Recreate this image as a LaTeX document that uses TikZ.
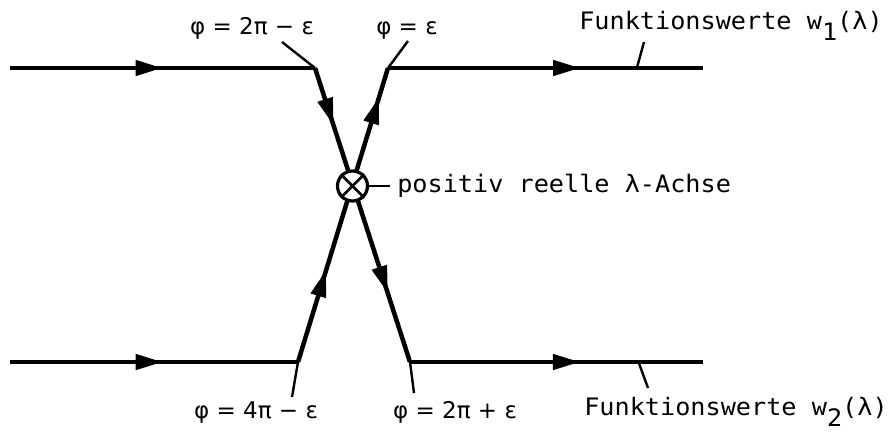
\documentclass[tikz,border=0pt]{standalone}
\usepackage{fontspec}
\usetikzlibrary{arrows.meta,decorations.markings}
\newfontfamily\typew[FakeStretch=1.05]{DejaVu Sans Mono}
\newfontfamily\phifont{DejaVu Sans}

\begin{document}
\begin{tikzpicture}[x=1pt,y=-1pt,line width=4.5pt,
    arrowat/.style={postaction={decorate,decoration={markings,
        mark=at position #1 with {\arrow{Triangle[length=27pt,width=15pt]}}}}},
    leader/.style={line width=2.4pt},
    phlabel/.style={font=\phifont\fontsize{23}{23}\selectfont,anchor=base,inner sep=0pt},
    fwlabel/.style={font=\typew\fontsize{24}{24}\selectfont,anchor=base west,inner sep=0pt}]

\useasboundingbox (0,0) rectangle (888,437);

% Corner points
\coordinate (tl) at (10,68);
\coordinate (b1) at (315,68);
\coordinate (b2) at (388,68);
\coordinate (tr) at (703,68);
\coordinate (bl) at (10,362);
\coordinate (b3) at (298,362);
\coordinate (b4) at (410,362);
\coordinate (br) at (703,362);

% Horizontal lines
\draw[arrowat=.5] (tl) -- (b1);
\draw[arrowat=.61] (b2) -- coordinate[pos=.79] (w1) (tr);
\draw[arrowat=.53] (bl) -- (b3);
\draw[arrowat=.58] (b4) -- coordinate[pos=.78] (w2) (br);

% Crossing lines
\draw[arrowat=.194, arrowat=.765] (b1) -- (b4);
\draw[arrowat=.313, arrowat=.901] (b3) -- (b2);

% Crossing point
\node[draw, circle, fill=white, line width=3.2pt, minimum size=30pt, inner sep=0pt] (ax) at (352.5,186) {};
\draw[line width=2.6pt] (ax.45) -- (ax.225) (ax.135) -- (ax.315);

% Labels
\node[phlabel] (p1) at (252,34) {φ = 2π − ε};
\node[phlabel] (p2) at (407,34) {φ = ε};
\node[phlabel] (p3) at (256,418) {φ = 4π − ε};
\node[phlabel] (p4) at (455,418) {φ = 2π + ε};
\node[fwlabel] (f1) at (577,29) {Funktionswerte w\raisebox{-11pt}{1}(λ)};
\node[fwlabel] (f2) at (582,415) {Funktionswerte w\raisebox{-11pt}{2}(λ)};
\node[fwlabel] (pa) at (395,192) {positiv reelle λ-Achse};

% Leader lines
\coordinate (l1) at (282,42);
\coordinate (l2) at (408,41);
\coordinate (l3) at (292,397);
\coordinate (l4) at (414,393);
\coordinate (l5) at (644,42);
\coordinate (l6) at (648,388);
\coordinate (l7) at (390,186);
\draw[leader] (l1) -- (b1);
\draw[leader] (l2) -- (b2);
\draw[leader] (l3) -- (b3);
\draw[leader] (l4) -- (b4);
\draw[leader] (l5) -- (w1);
\draw[leader] (l6) -- (w2);
\draw[leader] (ax.east) -- (l7);

\end{tikzpicture}
\end{document}
